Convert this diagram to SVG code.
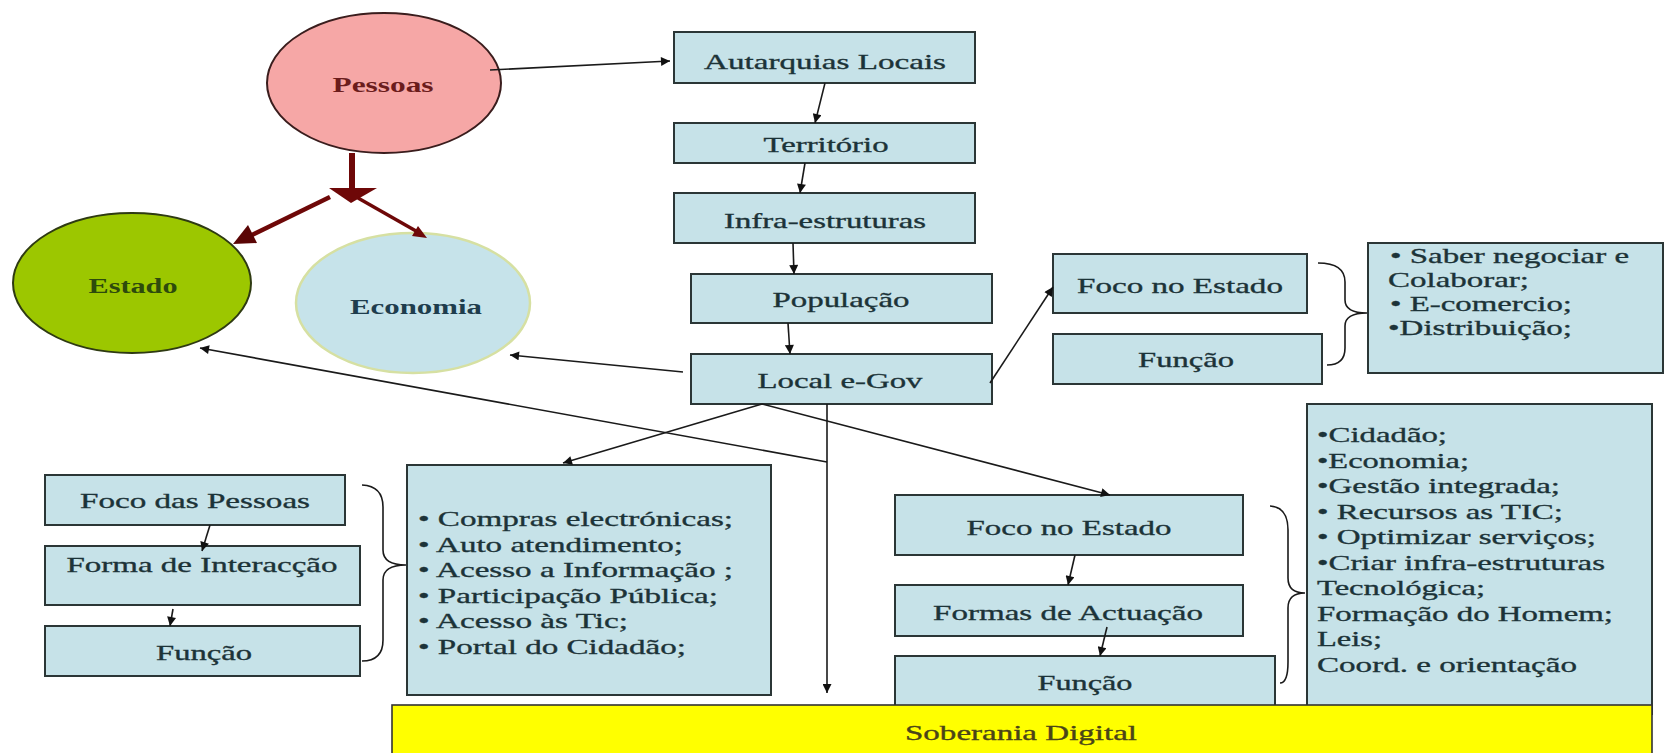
<svg xmlns="http://www.w3.org/2000/svg" width="1665" height="753" viewBox="0 0 1665 753">
<style>
text{font-family:"Liberation Serif","Times New Roman",serif;font-size:22px;fill:#1c3338;stroke:#1c3338;stroke-width:0.35}
.box{fill:#c6e2e8;stroke:#2b3636;stroke-width:2}
.lbl{text-anchor:middle}
.con{fill:none;stroke:#1a1a1a;stroke-width:1.6}
.brace{fill:none;stroke:#1a1a1a;stroke-width:1.6}
.red{stroke:#6e0808;fill:none}
</style>
<defs>
<marker id="ah" viewBox="0 0 10 10" refX="10" refY="5" markerWidth="11" markerHeight="9" markerUnits="userSpaceOnUse" orient="auto"><path d="M0,0 L10,5 L0,10 z" fill="#111"/></marker>
</defs>
<rect width="1665" height="753" fill="#ffffff"/>

<g id="pessoas">
<ellipse cx="384" cy="83" rx="117" ry="70" fill="#f6a7a6" stroke="#3a1d1d" stroke-width="2"/>
<text class="lbl" x="383" y="92" font-weight="bold" style="fill:#6b1c1c;stroke:none" textLength="101" lengthAdjust="spacingAndGlyphs">Pessoas</text>
</g>
<g id="estado">
<ellipse cx="132" cy="283" rx="119" ry="70" fill="#9cc700" stroke="#2e3a12" stroke-width="2"/>
<text class="lbl" x="133" y="293" font-weight="bold" style="fill:#2d4a0c;stroke:none" textLength="89" lengthAdjust="spacingAndGlyphs">Estado</text>
</g>
<g id="economia">
<ellipse cx="413" cy="303" rx="117" ry="70" fill="#c6e3ea" stroke="#d6e0a2" stroke-width="2.5"/>
<text class="lbl" x="416" y="314" font-weight="bold" style="fill:#1e3d4d;stroke:none" textLength="132" lengthAdjust="spacingAndGlyphs">Economia</text>
</g>

<g id="autarquias">
<rect class="box" x="674" y="32" width="301" height="51"/>
<text class="lbl" x="825" y="69" textLength="242" lengthAdjust="spacingAndGlyphs">Autarquias Locais</text>
</g>
<g id="territorio">
<rect class="box" x="674" y="123" width="301" height="40"/>
<text class="lbl" x="826" y="152" textLength="125" lengthAdjust="spacingAndGlyphs">Território</text>
</g>
<g id="infra">
<rect class="box" x="674" y="193" width="301" height="50"/>
<text class="lbl" x="825" y="228" textLength="202" lengthAdjust="spacingAndGlyphs">Infra-estruturas</text>
</g>
<g id="populacao">
<rect class="box" x="691" y="274" width="301" height="49"/>
<text class="lbl" x="841" y="307" textLength="137" lengthAdjust="spacingAndGlyphs">População</text>
</g>
<g id="local-egov">
<rect class="box" x="691" y="354" width="301" height="50"/>
<text class="lbl" x="840" y="388" textLength="165" lengthAdjust="spacingAndGlyphs">Local e-Gov</text>
</g>

<g id="foco-estado-top">
<rect class="box" x="1053" y="254" width="254" height="59"/>
<text class="lbl" x="1180" y="293" textLength="206" lengthAdjust="spacingAndGlyphs">Foco no Estado</text>
</g>
<g id="funcao-top">
<rect class="box" x="1053" y="334" width="269" height="50"/>
<text class="lbl" x="1186" y="367" textLength="96" lengthAdjust="spacingAndGlyphs">Função</text>
</g>
<g id="saber">
<rect class="box" x="1368" y="243" width="295" height="130"/>
<text x="1390" y="263" textLength="239" lengthAdjust="spacingAndGlyphs">• Saber negociar e</text>
<text x="1388" y="287" textLength="141" lengthAdjust="spacingAndGlyphs">Colaborar;</text>
<text x="1390" y="311" textLength="182" lengthAdjust="spacingAndGlyphs">• E-comercio;</text>
<text x="1388" y="335" textLength="184" lengthAdjust="spacingAndGlyphs">•Distribuição;</text>
</g>
<path class="brace" d="M1318,263 Q1345,263 1345,282 L1345,300 Q1345,313 1367,313 Q1345,313 1345,326 L1345,348 Q1345,365 1327,365"/>

<g id="foco-pessoas">
<rect class="box" x="45" y="475" width="300" height="50"/>
<text class="lbl" x="195" y="508" textLength="230" lengthAdjust="spacingAndGlyphs">Foco das Pessoas</text>
</g>
<g id="forma-interaccao">
<rect class="box" x="45" y="546" width="315" height="59"/>
<text class="lbl" x="202" y="572" textLength="271" lengthAdjust="spacingAndGlyphs">Forma de Interacção</text>
</g>
<g id="funcao-left">
<rect class="box" x="45" y="626" width="315" height="50"/>
<text class="lbl" x="204" y="660" textLength="96" lengthAdjust="spacingAndGlyphs">Função</text>
</g>
<path class="brace" d="M362,485 Q383,486 383,507 L383,550 Q383,565 406,565 Q383,565 383,580 L383,640 Q383,661 362,661"/>

<g id="servicos">
<rect class="box" x="407" y="465" width="364" height="230"/>
<text x="418" y="526" textLength="315" lengthAdjust="spacingAndGlyphs">• Compras electrónicas;</text>
<text x="418" y="551.5" textLength="265" lengthAdjust="spacingAndGlyphs">• Auto atendimento;</text>
<text x="418" y="577" textLength="315" lengthAdjust="spacingAndGlyphs">• Acesso a Informação ;</text>
<text x="418" y="602.5" textLength="300" lengthAdjust="spacingAndGlyphs">• Participação Pública;</text>
<text x="418" y="628" textLength="210" lengthAdjust="spacingAndGlyphs">• Acesso às Tic;</text>
<text x="418" y="653.5" textLength="268" lengthAdjust="spacingAndGlyphs">• Portal do Cidadão;</text>
</g>

<g id="foco-estado-bottom">
<rect class="box" x="895" y="495" width="348" height="60"/>
<text class="lbl" x="1069" y="535" textLength="205" lengthAdjust="spacingAndGlyphs">Foco no Estado</text>
</g>
<g id="formas-actuacao">
<rect class="box" x="895" y="585" width="348" height="51"/>
<text class="lbl" x="1068" y="620" textLength="270" lengthAdjust="spacingAndGlyphs">Formas de Actuação</text>
</g>
<g id="funcao-bottom">
<rect class="box" x="895" y="656" width="380" height="60"/>
<text class="lbl" x="1085" y="690" textLength="95" lengthAdjust="spacingAndGlyphs">Função</text>
</g>
<g id="cidadao">
<rect class="box" x="1307" y="404" width="345" height="310"/>
<text x="1317" y="442" textLength="130" lengthAdjust="spacingAndGlyphs">•Cidadão;</text>
<text x="1317" y="467.5" textLength="152" lengthAdjust="spacingAndGlyphs">•Economia;</text>
<text x="1317" y="493" textLength="243" lengthAdjust="spacingAndGlyphs">•Gestão integrada;</text>
<text x="1317" y="518.5" textLength="246" lengthAdjust="spacingAndGlyphs">• Recursos as TIC;</text>
<text x="1317" y="544" textLength="279" lengthAdjust="spacingAndGlyphs">• Optimizar serviços;</text>
<text x="1317" y="569.5" textLength="288" lengthAdjust="spacingAndGlyphs">•Criar infra-estruturas</text>
<text x="1317" y="595" textLength="168" lengthAdjust="spacingAndGlyphs">Tecnológica;</text>
<text x="1317" y="620.5" textLength="296" lengthAdjust="spacingAndGlyphs">Formação do Homem;</text>
<text x="1317" y="646" textLength="65" lengthAdjust="spacingAndGlyphs">Leis;</text>
<text x="1317" y="671.5" textLength="260" lengthAdjust="spacingAndGlyphs">Coord. e orientação</text>
</g>
<path class="brace" d="M1270,506 Q1288,507 1288,530 L1288,578 Q1288,593 1305,593 Q1288,593 1288,608 L1288,662 Q1288,683 1280,683"/>

<g id="soberania">
<rect x="392" y="705" width="1260" height="60" fill="#ffff00" stroke="#333333" stroke-width="1.6"/>
<text x="905" y="740" style="fill:#4a4418;stroke:#4a4418" textLength="232" lengthAdjust="spacingAndGlyphs">Soberania Digital</text>
</g>

<g id="connectors">
<line class="con" x1="490" y1="70" x2="670" y2="61" marker-end="url(#ah)"/>
<line class="con" x1="825" y1="83" x2="815" y2="123" marker-end="url(#ah)"/>
<line class="con" x1="805" y1="163" x2="800" y2="193" marker-end="url(#ah)"/>
<line class="con" x1="793" y1="243" x2="794" y2="274" marker-end="url(#ah)"/>
<line class="con" x1="788" y1="323" x2="790" y2="354" marker-end="url(#ah)"/>
<line class="con" x1="683" y1="372" x2="510" y2="355" marker-end="url(#ah)"/>
<line class="con" x1="827" y1="462" x2="200" y2="348" marker-end="url(#ah)"/>
<line class="con" x1="827" y1="404" x2="827" y2="693" marker-end="url(#ah)"/>
<line class="con" x1="762" y1="404" x2="563" y2="463" marker-end="url(#ah)"/>
<line class="con" x1="762" y1="404" x2="1110" y2="495" marker-end="url(#ah)"/>
<line class="con" x1="990" y1="383" x2="1053" y2="287" marker-end="url(#ah)"/>
<line class="con" x1="210" y1="525" x2="202" y2="551" marker-end="url(#ah)"/>
<line class="con" x1="173" y1="609" x2="170" y2="626" marker-end="url(#ah)"/>
<line class="con" x1="1075" y1="555" x2="1068" y2="585" marker-end="url(#ah)"/>
<line class="con" x1="1107" y1="627" x2="1100" y2="656" marker-end="url(#ah)"/>
<g id="thick-arrows">
<line class="red" x1="352" y1="153" x2="352" y2="190" stroke-width="6"/>
<polygon points="329,188 377,188 351,203" fill="#6e0808"/>
<line class="red" x1="330" y1="197" x2="252" y2="235" stroke-width="4.5"/>
<polygon points="233,244 257,243 248,225" fill="#5a0505"/>
<line class="red" x1="358" y1="198" x2="416" y2="231" stroke-width="3.5"/>
<polygon points="427,238 412,236 418,226" fill="#6e0808"/>
</g>
</g>
</svg>
